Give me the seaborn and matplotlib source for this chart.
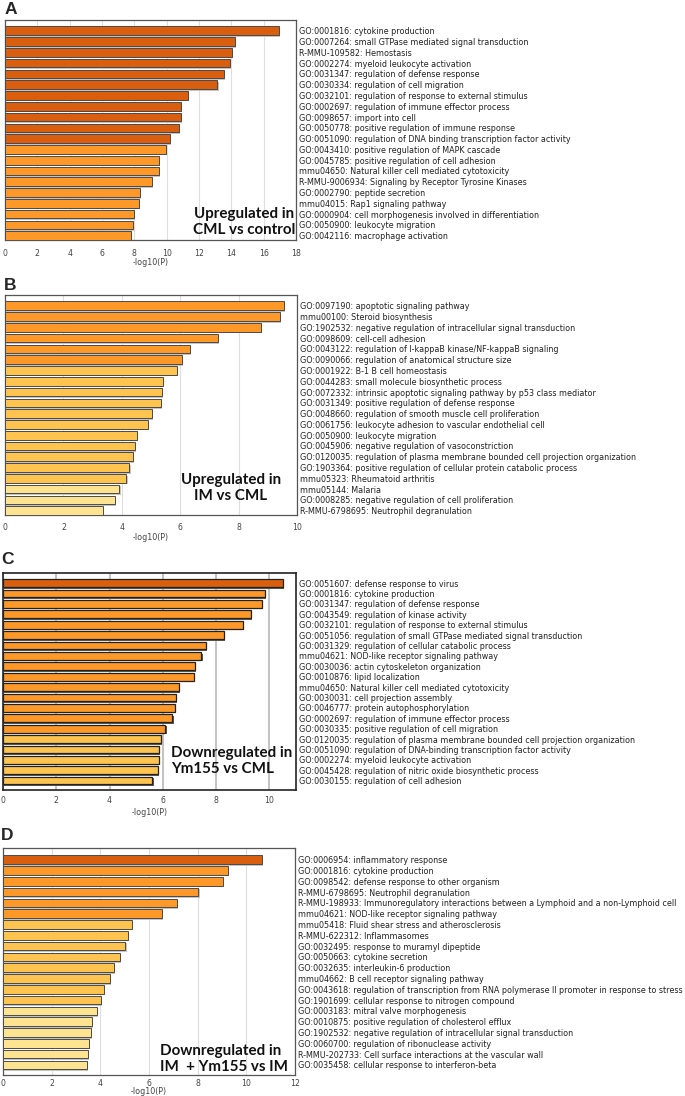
import numpy as np
import pandas as pd
import matplotlib
matplotlib.use("Agg")
import matplotlib.pyplot as plt
import matplotlib.patheffects as pe
import seaborn as sns

# ---- data ----
terms_a = ["GO:0001816: cytokine production",
           "GO:0007264: small GTPase mediated signal transduction",
           "R-MMU-109582: Hemostasis",
           "GO:0002274: myeloid leukocyte activation",
           "GO:0031347: regulation of defense response",
           "GO:0030334: regulation of cell migration",
           "GO:0032101: regulation of response to external stimulus",
           "GO:0002697: regulation of immune effector process",
           "GO:0098657: import into cell",
           "GO:0050778: positive regulation of immune response",
           "GO:0051090: regulation of DNA binding transcription factor activity",
           "GO:0043410: positive regulation of MAPK cascade",
           "GO:0045785: positive regulation of cell adhesion",
           "mmu04650: Natural killer cell mediated cytotoxicity",
           "R-MMU-9006934: Signaling by Receptor Tyrosine Kinases",
           "GO:0002790: peptide secretion",
           "mmu04015: Rap1 signaling pathway",
           "GO:0000904: cell morphogenesis involved in differentiation",
           "GO:0050900: leukocyte migration",
           "GO:0042116: macrophage activation"]
logp_a = [16.97, 14.24, 14.06, 13.93, 13.55, 13.14, 11.29, 10.86, 10.86, 10.74,
          10.20, 9.98, 9.53, 9.53, 9.08, 8.36, 8.26, 7.99, 7.89, 7.81]

terms_b = ["GO:0097190: apoptotic signaling pathway",
           "mmu00100: Steroid biosynthesis",
           "GO:1902532: negative regulation of intracellular signal transduction",
           "GO:0098609: cell-cell adhesion",
           "GO:0043122: regulation of I-kappaB kinase/NF-kappaB signaling",
           "GO:0090066: regulation of anatomical structure size",
           "GO:0001922: B-1 B cell homeostasis",
           "GO:0044283: small molecule biosynthetic process",
           "GO:0072332: intrinsic apoptotic signaling pathway by p53 class mediator",
           "GO:0031349: positive regulation of defense response",
           "GO:0048660: regulation of smooth muscle cell proliferation",
           "GO:0061756: leukocyte adhesion to vascular endothelial cell",
           "GO:0050900: leukocyte migration",
           "GO:0045906: negative regulation of vasoconstriction",
           "GO:0120035: regulation of plasma membrane bounded cell projection organization",
           "GO:1903364: positive regulation of cellular protein catabolic process",
           "mmu05323: Rheumatoid arthritis",
           "mmu05144: Malaria",
           "GO:0008285: negative regulation of cell proliferation",
           "R-MMU-6798695: Neutrophil degranulation"]
logp_b = [9.54, 9.41, 8.75, 7.29, 6.32, 6.05, 5.90, 5.41, 5.36, 5.33,
          5.04, 4.91, 4.51, 4.45, 4.38, 4.26, 4.16, 3.92, 3.78, 3.36]

terms_c = ["GO:0051607: defense response to virus",
           "GO:0001816: cytokine production",
           "GO:0031347: regulation of defense response",
           "GO:0043549: regulation of kinase activity",
           "GO:0032101: regulation of response to external stimulus",
           "GO:0051056: regulation of small GTPase mediated signal transduction",
           "GO:0031329: regulation of cellular catabolic process",
           "mmu04621: NOD-like receptor signaling pathway",
           "GO:0030036: actin cytoskeleton organization",
           "GO:0010876: lipid localization",
           "mmu04650: Natural killer cell mediated cytotoxicity",
           "GO:0030031: cell projection assembly",
           "GO:0046777: protein autophosphorylation",
           "GO:0002697: regulation of immune effector process",
           "GO:0030335: positive regulation of cell migration",
           "GO:0120035: regulation of plasma membrane bounded cell projection organization",
           "GO:0051090: regulation of DNA-binding transcription factor activity",
           "GO:0002274: myeloid leukocyte activation",
           "GO:0045428: regulation of nitric oxide biosynthetic process",
           "GO:0030155: regulation of cell adhesion"]
logp_c = [10.50, 9.84, 9.73, 9.30, 9.00, 8.29, 7.63, 7.45, 7.19, 7.18,
          6.59, 6.50, 6.44, 6.36, 6.10, 5.94, 5.86, 5.86, 5.83, 5.61]

terms_d = ["GO:0006954: inflammatory response",
           "GO:0001816: cytokine production",
           "GO:0098542: defense response to other organism",
           "R-MMU-6798695: Neutrophil degranulation",
           "R-MMU-198933: Immunoregulatory interactions between a Lymphoid and a non-Lymphoid cell",
           "mmu04621: NOD-like receptor signaling pathway",
           "mmu05418: Fluid shear stress and atherosclerosis",
           "R-MMU-622312: Inflammasomes",
           "GO:0032495: response to muramyl dipeptide",
           "GO:0050663: cytokine secretion",
           "GO:0032635: interleukin-6 production",
           "mmu04662: B cell receptor signaling pathway",
           "GO:0043618: regulation of transcription from RNA polymerase II promoter in response to stress",
           "GO:1901699: cellular response to nitrogen compound",
           "GO:0003183: mitral valve morphogenesis",
           "GO:0010875: positive regulation of cholesterol efflux",
           "GO:1902532: negative regulation of intracellular signal transduction",
           "GO:0060700: regulation of ribonuclease activity",
           "R-MMU-202733: Cell surface interactions at the vascular wall",
           "GO:0035458: cellular response to interferon-beta"]
logp_d = [10.64, 9.25, 9.03, 8.03, 7.14, 6.54, 5.29, 5.15, 5.03, 4.82,
          4.56, 4.41, 4.14, 4.01, 3.87, 3.65, 3.63, 3.55, 3.50, 3.44]

notes = ["Upregulated in\nCML vs control",
         "Upregulated in\nIM vs CML",
         "Downregulated in\nYm155 vs CML",
         "Downregulated in\nIM  + Ym155 vs IM"]


def bar_colour(v):
    # metascape style bins on -log10(P)
    if v >= 10:
        return "#D95F0E"
    if v >= 6:
        return "#FE9929"
    if v >= 4:
        return "#FEC44F"
    return "#FEE391"


sns.set_style("white")
plt.rcParams["font.family"] = ["DejaVu Sans"]

W, H = 685, 1096
fig = plt.figure(figsize=(W / 100, H / 100), dpi=100)

# layout in pixels: (left, top, right, bottom)
layout = [
    dict(letter="A", box=(5, 20, 296, 240), xmax=18, ylim=(19.4, -1.0), width=0.8,
         dark=False, letter_xy=(5, 9), note_xy=(244, 222), ha="center",
         tickpad=6.5, label_y=258),
    dict(letter="B", box=(5, 295, 297, 515), xmax=10, ylim=(19.4, -1.0), width=0.8,
         dark=False, letter_xy=(4, 285), note_xy=(231, 488), ha="center",
         tickpad=5.8, label_y=533),
    dict(letter="C", box=(3, 573, 296, 790), xmax=11, ylim=(19.9, -0.97), width=0.74,
         dark=True, letter_xy=(1, 559), note_xy=(171, 761), ha="left",
         tickpad=4.2, label_y=808),
    dict(letter="D", box=(3, 848, 295, 1075), xmax=12, ylim=(19.93, -1.08), width=0.8,
         dark=False, letter_xy=(1, 835), note_xy=(160, 1059), ha="left",
         tickpad=3.0, label_y=1087),
]
datasets = [(terms_a, logp_a), (terms_b, logp_b), (terms_c, logp_c), (terms_d, logp_d)]

for lay, (terms, vals), note in zip(layout, datasets, notes):
    l, t, r, b = lay["box"]
    ax = fig.add_axes([l / W, 1 - b / H, (r - l) / W, (b - t) / H])
    df = pd.DataFrame({"term": terms, "logp": vals})
    pal = {k: bar_colour(v) for k, v in zip(terms, vals)}

    edge = "#222222" if lay["dark"] else "#4a4a4a"
    shadow = "#5a5a5a" if lay["dark"] else "#c4c4c4"
    sns.barplot(data=df, x="logp", y="term", hue="term", palette=pal, legend=False,
                orient="h", width=lay["width"], saturation=1, edgecolor=edge,
                linewidth=0.9 if lay["dark"] else 0.7, ax=ax, zorder=3)
    for p in ax.patches:
        p.set_path_effects([pe.SimplePatchShadow(offset=(0.8, -1.2), shadow_rgbFace=shadow, alpha=1),
                            pe.Normal()])

    ax.set_xlim(0, lay["xmax"])
    ax.set_ylim(*lay["ylim"])
    ax.set_xticks(np.arange(0, lay["xmax"] + 0.1, 2))
    ax.xaxis.grid(True, color="#c4c4c4" if lay["dark"] else "#dedede",
                  lw=1.5 if lay["dark"] else 0.8, zorder=0)
    ax.set_axisbelow(True)

    ax.yaxis.tick_right()
    ax.tick_params(axis="y", length=0, pad=2.0, labelsize=5.76, labelcolor="#222222",
                   right=False, left=False, labelright=True, labelleft=False)
    ax.tick_params(axis="x", length=0, pad=lay["tickpad"], labelsize=5.6, labelcolor="#444444")
    ax.set_ylabel("")
    ax.set_xlabel("-log10(P)", fontsize=5.8, color="#444444")
    ax.xaxis.set_label_coords(0.5, -(lay["label_y"] - b) / (b - t))

    for s in ax.spines.values():
        s.set_visible(True)
        s.set_color("#222222" if lay["dark"] else "#555555")
        s.set_linewidth(1.2 if lay["dark"] else 0.9)

    fig.text(lay["letter_xy"][0] / W, 1 - lay["letter_xy"][1] / H, lay["letter"],
             fontsize=12.5, fontweight="bold", family="Liberation Sans",
             ha="left", va="center")
    fig.text(lay["note_xy"][0] / W, 1 - lay["note_xy"][1] / H, note,
             fontsize=10.9, fontweight="bold", family="Lato", color="#111111",
             ha=lay["ha"], va="center", multialignment=lay["ha"], linespacing=1.2,
             zorder=10)

fig.savefig("out.png", dpi=100)
